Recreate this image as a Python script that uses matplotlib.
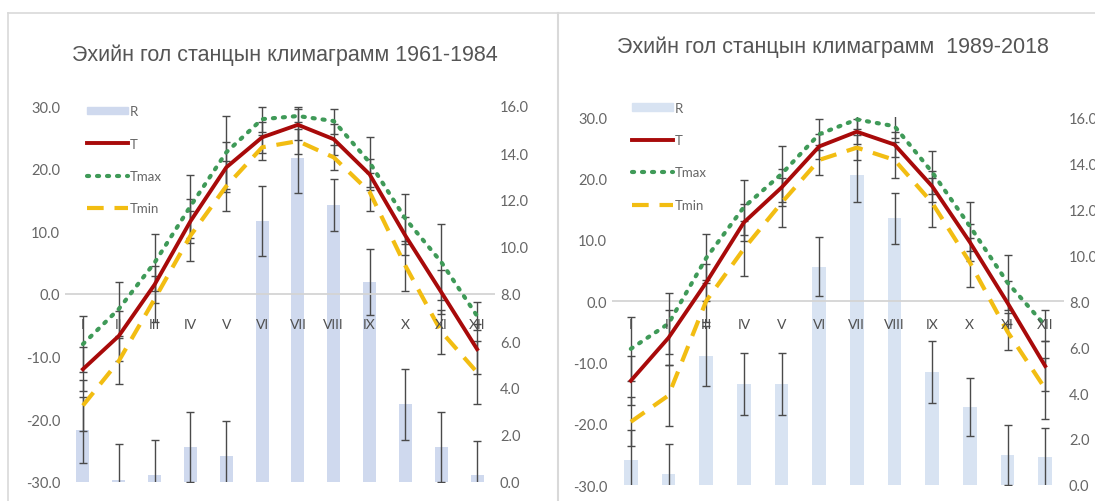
import matplotlib
matplotlib.use("Agg")
import matplotlib.pyplot as plt
from matplotlib.lines import Line2D
from matplotlib.patches import Patch

months = ["I", "II", "III", "IV", "V", "VI", "VII", "VIII", "IX", "X", "XI", "XII"]

# 1961-1984
t1 = [-12.0, -6.7, 1.5, 11.6, 20.2, 25.0, 27.0, 24.7, 19.1, 9.3, 0.3, -8.8]
tmax1 = [-8.0, -2.4, 5.0, 14.0, 22.6, 27.9, 28.4, 27.6, 21.0, 12.0, 5.1, -3.5]
tmin1 = [-17.8, -10.7, -0.8, 9.3, 17.2, 23.4, 24.4, 21.8, 16.3, 4.5, -6.0, -12.5]
r1 = [2.2, 0.1, 0.3, 1.5, 1.1, 11.1, 13.8, 11.8, 8.5, 3.3, 1.5, 0.3]
t1_err = [3.5, 4.0, 3.0, 3.5, 4.0, 2.5, 2.5, 2.5, 2.5, 3.0, 3.5, 4.0]
tmax1_err = [4.5, 4.3, 4.6, 5.0, 5.8, 2.0, 1.5, 2.0, 4.0, 4.0, 6.0, 2.2]
tmin1_err = [4.0, 3.7, 3.7, 4.0, 4.0, 2.0, 2.0, 2.0, 3.0, 4.0, 3.5, 5.0]
r1_err = [1.4, 1.5, 1.5, 1.5, 1.5, 1.5, 1.5, 1.1, 1.4, 1.5, 1.5, 1.45]

# 1989-2018
t2 = [-13.0, -6.0, 3.0, 12.8, 18.5, 25.2, 27.6, 25.5, 18.7, 9.6, -0.3, -10.6]
tmax2 = [-7.8, -3.7, 7.0, 15.3, 20.7, 27.2, 29.6, 28.5, 21.0, 12.2, 3.0, -4.0]
tmin2 = [-19.7, -15.4, 0.0, 8.5, 16.0, 23.0, 25.0, 23.0, 16.0, 6.3, -5.0, -14.3]
r2 = [1.1, 0.5, 5.6, 4.4, 4.4, 9.5, 13.5, 11.6, 4.9, 3.4, 1.3, 1.2]
t2_err = [4.0, 4.5, 3.0, 3.0, 3.0, 2.0, 2.0, 2.0, 2.5, 3.0, 3.5, 4.0]
tmax2_err = [5.2, 5.0, 4.0, 4.5, 4.5, 2.5, 1.5, 2.0, 3.5, 4.0, 4.5, 2.5]
tmin2_err = [4.0, 5.0, 3.5, 4.5, 4.0, 2.5, 2.0, 3.0, 4.0, 4.0, 3.0, 5.0]
r2_err = [1.3, 1.3, 1.3, 1.35, 1.35, 1.3, 1.2, 1.1, 1.35, 1.25, 1.3, 1.3]

titles = ["Эхийн гол станцын климаграмм 1961-1984",
          "Эхийн гол станцын климаграмм  1989-2018"]

RED = "#a80a0a"
GREEN = "#3f9a58"
GOLD = "#f2bd12"
ERR = "#4a4a4a"
TXT = "#666666"
NUM_FONT = ["Lato", "DejaVu Sans"]
TITLE_FONT = ["Liberation Sans Narrow", "Liberation Sans", "DejaVu Sans"]

W, H = 1095, 502
fig = plt.figure(figsize=(W / 100, H / 100), dpi=100)


def px_rect(x0, x1, ytop, ybot):
    return [x0 / W, 1 - ybot / H, (x1 - x0) / W, (ybot - ytop) / H]


def panel(rect, t, tmax, tmin, r, terr, tmaxerr, tminerr, rerr, month_y, leg_anchor, bar_col):
    ax = fig.add_axes(rect)
    ax2 = ax.twinx()
    ax.set_zorder(ax2.get_zorder() + 1)
    ax.patch.set_visible(False)
    x = list(range(len(months)))

    # precipitation bars on secondary axis
    ax2.bar(x, r, width=0.36, color=bar_col, zorder=1)
    ax2.errorbar(x, r, yerr=rerr, fmt="none", ecolor=ERR, elinewidth=1,
                 capsize=3, capthick=1, zorder=2)
    ax2.set_ylim(0, 16)
    ax2.set_yticks(range(0, 17, 2))
    ax2.set_yticklabels([f"{v:.1f}" for v in range(0, 17, 2)])

    # temperatures
    ax.axhline(0, color="#d4d4d4", lw=1.3, zorder=1)
    for y, e in ((tmax, tmaxerr), (t, terr), (tmin, tminerr)):
        ax.errorbar(x, y, yerr=e, fmt="none", ecolor=ERR, elinewidth=1,
                    capsize=3, capthick=1, zorder=2)
    ax.plot(x, tmax, color=GREEN, lw=3, ls=(0, (0.5, 1.9)),
            dash_capstyle="round", zorder=3)
    ax.plot(x, tmin, color=GOLD, lw=3, ls=(0, (4, 2.6)), zorder=3)
    ax.plot(x, t, color=RED, lw=2.8, zorder=4)

    ax.set_xlim(-0.5, 11.5)
    ax.set_ylim(-30, 30)
    ax.set_yticks(range(-30, 31, 10))
    ax.set_yticklabels([f"{v:.1f}" for v in range(-30, 31, 10)])
    ax.set_xticks([])
    for m, xm in zip(months, x):
        ax.text(xm, month_y, m, ha="center", va="center", fontsize=10,
                color="#505050", family=NUM_FONT, zorder=5)

    for a in (ax, ax2):
        for s in a.spines.values():
            s.set_visible(False)
        a.tick_params(length=0, labelsize=10.5, labelcolor=TXT)
        for lab in a.get_yticklabels():
            lab.set_family(NUM_FONT)

    handles = [Patch(color=bar_col),
               Line2D([], [], color=RED, lw=2.8),
               Line2D([], [], color=GREEN, lw=3, ls=(0, (0.5, 1.9)), dash_capstyle="round"),
               Line2D([], [], color=GOLD, lw=3, ls=(0, (4, 2.6)))]
    leg = ax.legend(handles, ["R", "T", "Tmax", "Tmin"], loc="upper left",
                    bbox_to_anchor=leg_anchor, frameon=False, borderpad=0,
                    labelspacing=1.55, handlelength=3.1, handleheight=0.5,
                    handletextpad=0.15, prop={"family": NUM_FONT, "size": 9.5})
    for txt in leg.get_texts():
        txt.set_color(TXT)
    return ax, ax2


panel(px_rect(65, 495, 107, 483), t1, tmax1, tmin1, r1,
      t1_err, tmax1_err, tmin1_err, r1_err, -4.8, (0.035, 1.02), "#cfd9ee")
panel(px_rect(612, 1064, 118, 486), t2, tmax2, tmin2, r2,
      t2_err, tmax2_err, tmin2_err, r2_err, -3.8, (0.03, 1.06), "#d8e3f2")

fig.text(285 / W, 1 - 55 / H, titles[0], ha="center", va="center",
         fontsize=15.5, color="#555555", family=TITLE_FONT)
fig.text(833 / W, 1 - 47 / H, titles[1], ha="center", va="center",
         fontsize=15.5, color="#555555", family=TITLE_FONT)

# chart frames
fig.add_artist(Line2D([8 / W, 1], [1 - 14 / H, 1 - 14 / H], color="#d9d9d9", lw=1.2))
fig.add_artist(Line2D([8 / W, 8 / W], [0, 1 - 14 / H], color="#d9d9d9", lw=1.2))
fig.add_artist(Line2D([558 / W, 558 / W], [0, 1 - 14 / H], color="#d9d9d9", lw=1.5))

fig.savefig("out.png", dpi=100)
